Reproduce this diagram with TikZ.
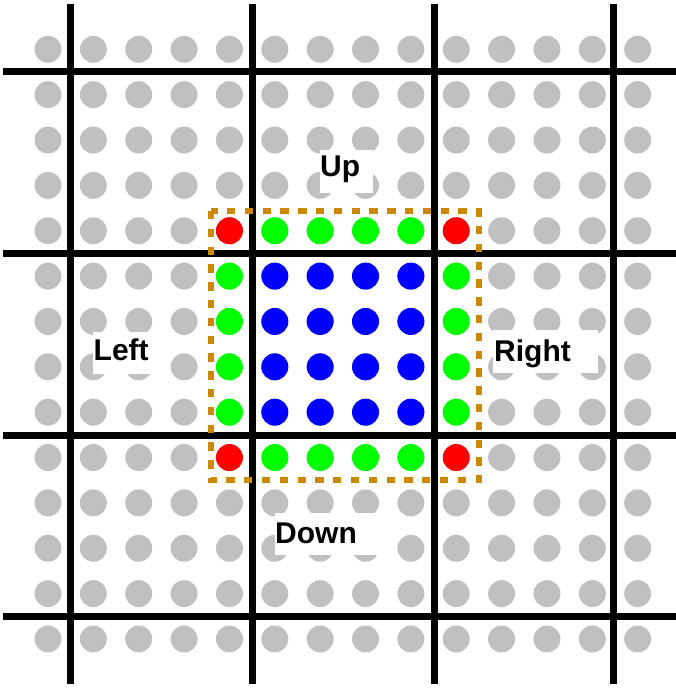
\documentclass[tikz,border=0pt]{standalone}
\usepackage{fontspec}
\setmainfont{Liberation Sans}
\begin{document}
\begin{tikzpicture}[x=1pt,y=-1pt]
\definecolor{dotgray}{RGB}{192,192,192}
\definecolor{dotgreen}{RGB}{0,255,0}
\definecolor{dotblue}{RGB}{0,0,255}
\definecolor{dotred}{RGB}{255,0,0}
\definecolor{frameorange}{RGB}{204,136,0}
\tikzset{
  gridline/.style={draw=black, line width=7pt},
  framebox/.style={draw=frameorange, line width=6pt, dash pattern=on 8.3pt off 9.5pt},
  whitebox/.style={fill=white, draw=none, inner sep=0pt, anchor=north west},
  labeltext/.style={anchor=base west, inner sep=0pt, font=\fontsize{30}{36}\selectfont\bfseries},
}
\useasboundingbox (0,0) rectangle (676,690);
% dots
\foreach \i in {0,...,13}{
  \foreach \j in {0,...,13}{
    \fill[dotgray] (48+45.36*\i, 49.3+45.36*\j) circle[radius=13.5];
  }
}
\foreach \i in {5,...,8}{
  \foreach \j in {5,...,8}{
    \fill[dotblue] (48+45.36*\i, 49.3+45.36*\j) circle[radius=13.5];
  }
  \foreach \j in {4,9}{
    \fill[dotgreen] (48+45.36*\i, 49.3+45.36*\j) circle[radius=13.5];
    \fill[dotgreen] (48+45.36*\j, 49.3+45.36*\i) circle[radius=13.5];
  }
}
\foreach \i in {4,9}{
  \foreach \j in {4,9}{
    \fill[dotred] (48+45.36*\i, 49.3+45.36*\j) circle[radius=13.5];
  }
}
% grid lines
\foreach \x in {70.5,252.3,434.2,613}{
  \draw[gridline] (\x,4) -- (\x,684);
}
\foreach \y in {72,253.7,435.5,616.7}{
  \draw[gridline] (3,\y) -- (676,\y);
}
% dashed frame
\draw[framebox] (210.5,211) rectangle (479,480);
% labels
\node[whitebox, minimum width=53pt, minimum height=43pt] (upbox) at (320,150) {};
\node[labeltext] (up) at (320,176.7) {Up};
\node[whitebox, minimum width=67pt, minimum height=42pt] (leftbox) at (93,332) {};
\node[labeltext] (left) at (93.5,360.7) {Left};
\node[whitebox, minimum width=105pt, minimum height=43pt] (rightbox) at (493,330) {};
\node[labeltext] (right) at (494,361.7) {Right};
\node[whitebox, minimum width=113pt, minimum height=42pt] (downbox) at (275,513) {};
\node[labeltext] (down) at (275,543.3) {Down};
\end{tikzpicture}
\end{document}
